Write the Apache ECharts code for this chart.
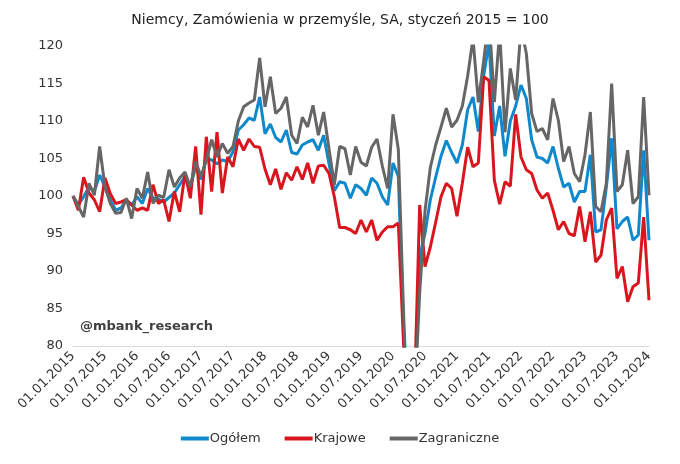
<!DOCTYPE html>
<html>
<head>
<meta charset="utf-8">
<script src="https://cdn.jsdelivr.net/npm/echarts@6/dist/echarts.min.js"></script>
<style>
  html, body { margin: 0; padding: 0; background: #fff; }
  #chart { width: 680px; height: 464px; }
</style>
</head>
<body>
<div id="chart"></div>
<script>
// miesiące od 01.2015 do 01.2024
const firstYear = 2015
const monthCount = 109
const categories = []
for (let i = 0; i < monthCount; i++) {
  const y = firstYear + Math.floor(i / 12)
  const m = (i % 12) + 1
  categories.push('01.' + (m < 10 ? '0' + m : m) + '.' + y)
}

// Ogółem
const ogolem = [
  100.0, 98.8, 99.9, 101.2, 100.6, 102.8, 101.2, 99.5, 98.1, 98.4, 99.5, 98.8,
  99.9, 99.0, 101.0, 99.7, 99.6, 99.2, 99.8, 100.4, 101.5, 102.6, 101.2, 103.9,
  102.2, 105.0, 104.8, 104.3, 104.8, 104.6, 105.9, 108.8, 109.5, 110.4, 110.1, 113.2,
  108.3, 109.6, 107.8, 107.2, 108.8, 105.8, 105.6, 106.8, 107.2, 107.5, 106.1, 108.1,
  104.3, 100.7, 101.9, 101.7, 99.7, 101.5, 101.0, 100.1, 102.4, 101.7, 99.9, 98.8,
  104.4, 102.6, 82.0, 65.0, 72.5, 92.0, 95.0, 99.5, 102.5, 105.3, 107.4, 105.8,
  104.4, 106.8, 111.5, 113.2, 108.6, 116.0, 120.5, 108.0, 112.0, 105.3, 110.0, 112.0,
  114.8, 113.0, 107.5, 105.2, 105.0, 104.4, 106.6, 103.7, 101.2, 101.7, 99.2, 100.6,
  100.6, 105.5, 95.2, 95.5, 101.2, 107.7, 95.6, 96.6, 97.2, 94.1, 94.8, 106.1,
  94.1
]

// Krajowe
const krajowe = [
  100.0, 98.1, 102.5, 100.4, 99.5, 97.9, 102.4, 100.3, 99.0, 99.2, 99.5, 98.8,
  98.1, 98.4, 98.1, 101.5, 99.0, 99.5, 96.6, 100.6, 97.9, 103.0, 99.7, 106.6,
  97.5, 107.9, 100.6, 108.5, 100.4, 105.2, 103.9, 107.6, 106.1, 107.6, 106.6, 106.5,
  103.6, 101.5, 103.6, 100.9, 103.1, 102.1, 103.9, 102.2, 104.4, 101.7, 104.0, 104.1,
  103.0, 99.9, 95.8, 95.8, 95.5, 95.0, 96.8, 95.2, 96.8, 94.1, 95.2, 95.9,
  95.9, 96.4, 80.0, 62.0, 73.0, 98.8, 90.6, 93.2, 96.5, 99.9, 101.7, 101.0,
  97.3, 101.7, 106.5, 103.9, 104.4, 115.9, 115.4, 102.1, 98.9, 101.9, 101.3, 110.9,
  105.2, 103.5, 103.0, 100.8, 99.7, 100.4, 98.1, 95.5, 96.6, 95.0, 94.7, 98.6,
  93.9, 97.9, 91.2, 92.1, 96.8, 98.4, 89.0, 90.6, 85.9, 87.9, 88.4, 97.2,
  86.1
]

// Zagraniczne
const zagraniczne = [
  100.0, 98.6, 97.2, 101.7, 100.1, 106.6, 101.2, 99.0, 97.7, 97.8, 99.7, 97.0,
  101.0, 99.7, 103.2, 99.0, 100.1, 99.8, 103.5, 101.2, 102.4, 103.2, 101.2, 104.6,
  102.6, 104.8, 107.5, 105.2, 107.0, 105.7, 106.6, 110.0, 111.9, 112.4, 112.8, 118.4,
  111.9, 115.9, 111.0, 111.7, 113.2, 108.1, 107.0, 110.5, 109.2, 112.1, 108.1, 111.2,
  106.3, 101.5, 106.6, 106.3, 102.8, 106.6, 104.5, 104.0, 106.5, 107.6, 104.0, 101.0,
  110.9, 106.2, 84.0, 67.0, 72.0, 87.0, 98.0, 103.8, 106.8, 109.2, 111.7, 109.2,
  110.1, 112.0, 116.0, 121.0, 112.5, 118.0, 124.0, 112.5, 122.0, 108.5, 117.0, 112.8,
  122.5, 119.0, 111.0, 108.6, 109.0, 107.5, 113.0, 110.1, 104.6, 106.6, 103.0, 101.9,
  105.5, 111.2, 98.6, 97.9, 101.7, 115.0, 100.6, 101.5, 106.1, 99.0, 99.9, 113.2,
  100.1
]

const chart = echarts.init(document.getElementById('chart'))

const option = {
  backgroundColor: '#fff',
  textStyle: { fontFamily: 'DejaVu Sans' },
  title: {
    text: 'Niemcy, Zamówienia w przemyśle, SA, styczeń 2015 = 100',
    left: 'center',
    top: 8,
    textStyle: { fontSize: 14, fontWeight: 'normal', color: '#222', fontFamily: 'DejaVu Sans' }
  },
  legend: {
    bottom: 14,
    left: 'center',
    icon: 'rect',
    itemWidth: 28,
    itemHeight: 4,
    itemGap: 24,
    textStyle: { fontSize: 13, color: '#333', fontFamily: 'DejaVu Sans', padding: [0, 0, 0, -4] },
    data: ['Ogółem', 'Krajowe', 'Zagraniczne']
  },
  grid: { left: 73, right: 31, top: 46, bottom: 118 },
  xAxis: {
    type: 'category',
    data: categories,
    boundaryGap: false,
    axisLine: { lineStyle: { color: '#d9d9d9', width: 1 } },
    axisTick: { show: false },
    axisLabel: {
      interval: 5,
      rotate: 45,
      fontSize: 13,
      color: '#333',
      margin: 8
    },
    splitLine: { show: false }
  },
  yAxis: {
    type: 'value',
    min: 80,
    max: 120,
    interval: 5,
    axisLine: { show: false },
    axisTick: { show: false },
    splitLine: { show: false },
    axisLabel: { fontSize: 13, color: '#333', margin: 10 }
  },
  graphic: [{
    type: 'text',
    left: 80,
    top: 320,
    style: {
      text: '@mbank_research',
      font: 'bold 13px "DejaVu Sans"',
      fill: '#404040'
    }
  }],
  series: [
    {
      name: 'Ogółem',
      type: 'line',
      data: ogolem,
      symbol: 'none',
      clip: true,
      lineStyle: { width: 3, color: '#1089cc' },
      itemStyle: { color: '#1089cc' }
    },
    {
      name: 'Krajowe',
      type: 'line',
      data: krajowe,
      symbol: 'none',
      clip: true,
      lineStyle: { width: 3, color: '#d9161e' },
      itemStyle: { color: '#d9161e' }
    },
    {
      name: 'Zagraniczne',
      type: 'line',
      data: zagraniczne,
      symbol: 'none',
      clip: true,
      lineStyle: { width: 3, color: '#666666' },
      itemStyle: { color: '#666666' }
    }
  ]
}

chart.setOption(option)
</script>
</body>
</html>
